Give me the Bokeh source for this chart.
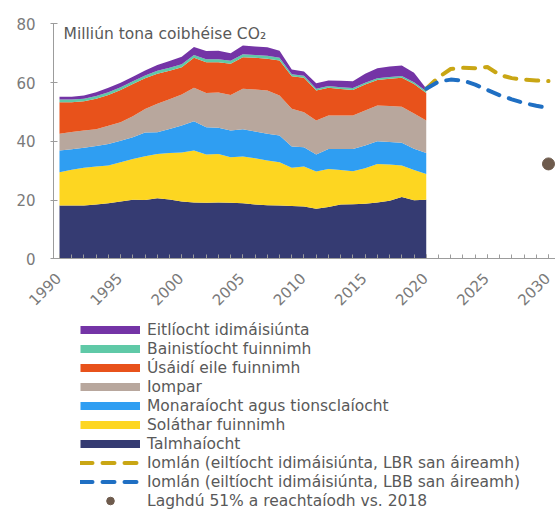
import math
from bokeh.plotting import figure
from bokeh.models import (ColumnDataSource, Legend, LegendItem, Range1d,
                          SingleIntervalTicker, Label, CustomJSTickFormatter)
from bokeh.core.properties import value
from bokeh.embed import file_html
from bokeh.resources import INLINE

# ---------------- data ----------------
years = list(range(1990, 2021))
talmhaiocht = [18.1, 18.1, 18.1, 18.5, 18.9, 19.5, 20.1, 20.0, 20.6, 20.2, 19.5, 19.2, 19.1, 19.2, 19.1, 18.9,
               18.5, 18.2, 18.1, 18.0, 17.8, 17.0, 17.6, 18.5, 18.6, 18.7, 19.2, 19.8, 21.0, 19.9, 20.1]
solathar = [11.4, 12.2, 12.9, 12.9, 12.9, 13.4, 13.9, 14.9, 15.1, 15.8, 16.7, 17.7, 16.4, 16.5, 15.5, 15.9,
            15.7, 15.3, 14.8, 13.0, 13.6, 12.7, 13.0, 11.7, 11.2, 12.1, 13.1, 12.3, 10.8, 10.3, 8.8]
monaraiocht = [7.4, 7.0, 6.8, 7.0, 7.3, 7.3, 7.4, 8.1, 7.4, 8.2, 9.2, 9.9, 9.3, 8.9, 9.1, 9.3,
               9.1, 9.1, 9.1, 7.2, 6.6, 5.8, 6.8, 7.2, 7.6, 7.8, 7.7, 7.7, 7.7, 7.3, 7.1]
iompar = [5.7, 5.9, 5.9, 5.7, 6.2, 6.3, 7.1, 8.0, 9.7, 10.1, 10.5, 11.4, 11.6, 12.0, 12.1, 13.8,
          14.3, 14.7, 13.6, 12.9, 11.9, 11.6, 11.4, 11.4, 11.4, 11.9, 12.2, 12.2, 12.3, 12.0, 11.1]
usaidi = [10.7, 10.1, 9.9, 10.4, 10.5, 11.0, 11.0, 10.5, 10.2, 9.7, 9.3, 10.2, 10.5, 10.3, 10.6, 10.7,
          10.8, 10.8, 11.9, 11.0, 11.7, 10.2, 9.4, 9.0, 8.7, 8.8, 8.7, 9.3, 9.8, 10.0, 9.3]
bainistiocht = [0.9, 0.9, 0.9, 0.9, 0.9, 0.9, 0.9, 0.9, 1.0, 1.0, 1.0, 1.0, 1.0, 1.0, 1.0, 1.0,
                1.0, 1.0, 0.9, 0.7, 0.7, 0.6, 0.6, 0.6, 0.6, 0.6, 0.6, 0.6, 0.6, 0.6, 0.6]
eitliocht = [1.0, 1.0, 1.1, 1.3, 1.5, 1.5, 1.6, 1.7, 2.0, 2.3, 2.6, 2.7, 2.8, 2.9, 2.6, 3.0,
             2.9, 2.9, 2.4, 1.6, 1.5, 1.9, 1.9, 2.2, 2.3, 3.1, 3.4, 3.6, 3.6, 3.2, 1.0]

proj_years = list(range(2020, 2031))
iomlan_lbr = [57.9, 61.8, 64.6, 65.0, 64.9, 65.3, 62.6, 61.5, 61.0, 60.7, 60.5]
iomlan_lbb = [57.9, 60.3, 61.0, 60.7, 59.3, 57.5, 55.7, 54.3, 53.0, 52.1, 51.3]

target_year = [2030]
target_value = [32.3]

x_tick_years = [1990, 1995, 2000, 2005, 2010, 2015, 2020, 2025, 2030]
x_tick_labels = ["1990", "1995", "2000", "2005", "2010", "2015", "2020", "2025", "2030"]

sector_keys = ["talmhaiocht", "solathar", "monaraiocht", "iompar", "usaidi", "bainistiocht", "eitliocht"]
sector_labels = ["Talmhaíocht", "Soláthar fuinnimh", "Monaraíocht agus tionsclaíocht", "Iompar",
                 "Úsáidí eile fuinnimh", "Bainistíocht fuinnimh", "Eitlíocht idimáisiúnta"]
sector_colors = ["#353b72", "#fdd621", "#2f9ef2", "#b8a79d", "#e8521b", "#5fc9a7", "#7434a6"]
lbr_label = "Iomlán (eiltíocht idimáisiúnta, LBR san áireamh)"
lbb_label = "Iomlán (eiltíocht idimáisiúnta, LBB san áireamh)"
target_label = "Laghdú 51% a reachtaíodh vs. 2018"
y_title = "Milliún tona coibhéise CO₂"

FONT = "DejaVu Sans"
GREY_TXT = "#595959"
AX_TXT = "#7a7a7a"
AX_LINE = "#9c9c9c"

# ---------------- figure ----------------
W, H = 555, 509
PX_PER_YEAR = 12.225
PX_PER_UNIT = 2.9375
X0, X1 = 1985.174, 2030.573     # 1990 at 59 px
Y0, Y1 = -85.35, 87.93          # 0 at 258 px, 80 at 23 px
AXIS_X = 1989.51                # where the value axis sits

p = figure(width=W, height=H, output_backend="svg", toolbar_location=None,
           x_range=Range1d(X0, X1), y_range=Range1d(Y0, Y1),
           min_border_left=0, min_border_right=0, min_border_top=0, min_border_bottom=0)
p.outline_line_color = None
p.grid.visible = False
p.background_fill_color = "white"
p.border_fill_color = "white"

src = ColumnDataSource(dict(year=years, talmhaiocht=talmhaiocht, solathar=solathar,
                            monaraiocht=monaraiocht, iompar=iompar, usaidi=usaidi,
                            bainistiocht=bainistiocht, eitliocht=eitliocht))
p.varea_stack(stackers=sector_keys, x="year", color=sector_colors, source=src)

r_lbr = p.line(proj_years, iomlan_lbr, line_color="#c9a614", line_width=4,
               line_dash="12 10", line_cap="round")
r_lbb = p.line(proj_years, iomlan_lbb, line_color="#1f6fc3", line_width=4,
               line_dash="12 10", line_cap="round")
r_target = p.scatter(target_year, target_value, size=12, color="#6e5b4d")

# legend swatches: thick bars, one per sector (not drawn on the chart itself)
sector_values = [talmhaiocht, solathar, monaraiocht, iompar, usaidi, bainistiocht, eitliocht]
swatches = {}
for lab, col, vals in zip(sector_labels, sector_colors, sector_values):
    swatches[lab] = p.line(years, vals, line_color=col, line_width=8, visible=False)

items = [LegendItem(label=lab, renderers=[swatches[lab]]) for lab in reversed(sector_labels)]
items += [LegendItem(label=lbr_label, renderers=[r_lbr]),
          LegendItem(label=lbb_label, renderers=[r_lbb]),
          LegendItem(label=target_label, renderers=[r_target])]

legend = Legend(items=items, location=(80, -1), orientation="vertical",
                glyph_width=60, glyph_height=19, label_height=19, spacing=0,
                label_standoff=7, padding=0, margin=0,
                border_line_color=None, background_fill_alpha=0,
                label_text_font=FONT, label_text_font_size="15.5px",
                label_text_color=GREY_TXT)
p.add_layout(legend, "center")

p.add_layout(Label(x=1990.33, y=76.6, text=y_title, text_font=FONT, text_font_size="15.5px",
                   text_color=GREY_TXT, text_baseline="alphabetic", text_align="left"))

# x axis fixed at 0
p.xaxis.fixed_location = 0
p.xaxis.bounds = (AXIS_X, X1)
p.xaxis.ticker = SingleIntervalTicker(interval=5, num_minor_ticks=5)
p.xaxis.formatter = CustomJSTickFormatter(code="return ''")
p.xaxis.major_tick_in = 4
p.xaxis.major_tick_out = 0
p.xaxis.minor_tick_in = 4
p.xaxis.minor_tick_out = 0
p.xaxis.axis_line_color = AX_LINE
p.xaxis.major_tick_line_color = AX_LINE
p.xaxis.minor_tick_line_color = AX_LINE

# rotated year labels, centred down-left of each tick
lab_x = [yr - 15.0 / PX_PER_YEAR for yr in x_tick_years]
lab_y = [-30.0 / PX_PER_UNIT for _ in x_tick_years]
p.text(x=lab_x, y=lab_y, text=x_tick_labels, angle=math.pi / 4,
       text_align="center", text_baseline="middle",
       text_font=value(FONT), text_font_size="15px", text_color=AX_TXT)

# y axis fixed at the left of the plotting area
p.yaxis.fixed_location = AXIS_X
p.yaxis.bounds = (0, 80)
p.yaxis.ticker = SingleIntervalTicker(interval=20, num_minor_ticks=0)
p.yaxis.major_tick_in = 4
p.yaxis.major_tick_out = 3
p.yaxis.minor_tick_line_color = None
p.yaxis.major_label_standoff = 15
p.yaxis.major_label_text_font = FONT
p.yaxis.major_label_text_font_size = "15px"
p.yaxis.major_label_text_color = AX_TXT
p.yaxis.axis_line_color = AX_LINE
p.yaxis.major_tick_line_color = AX_LINE

open("out.html", "w").write(file_html(p, INLINE))
